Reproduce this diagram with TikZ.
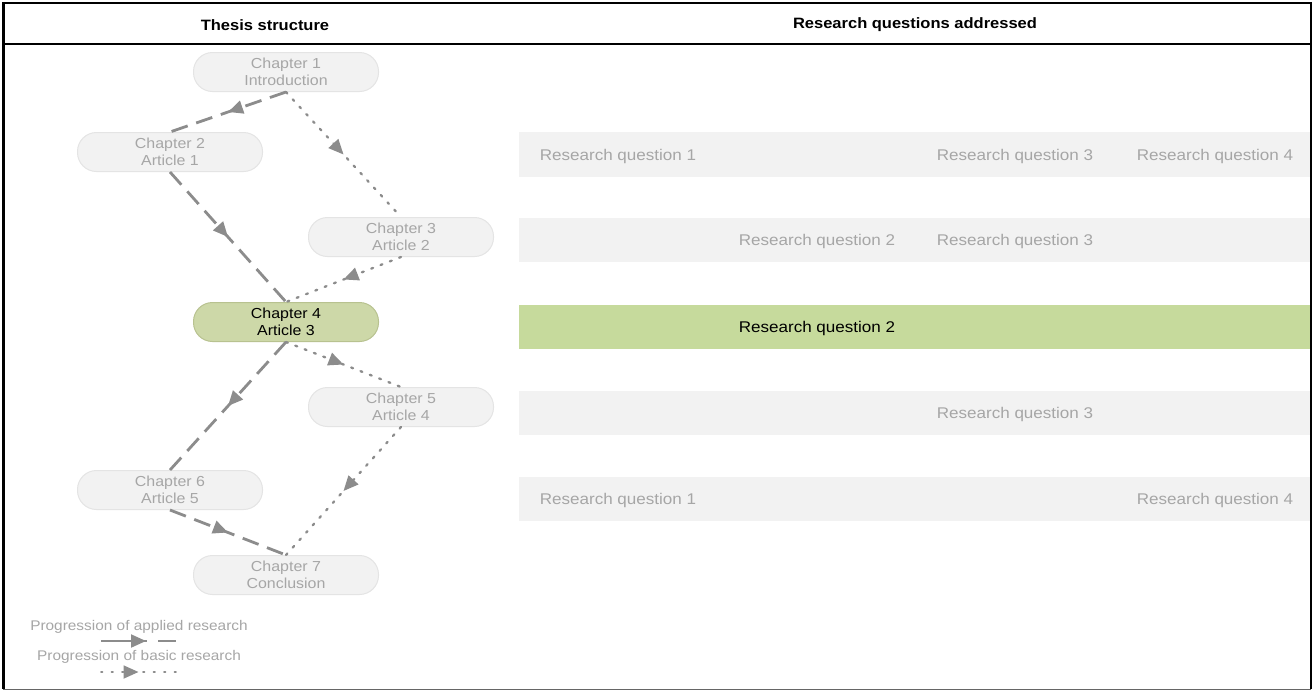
\documentclass[tikz,border=0pt]{standalone}
\usepackage{fontspec}
\setmainfont[FakeStretch=1.1]{Liberation Sans}
\usetikzlibrary{arrows.meta,decorations.markings}
\definecolor{nodefill}{HTML}{F2F2F2}
\definecolor{nodeborder}{HTML}{E4E4E4}
\definecolor{greytext}{HTML}{A6A6A6}
\definecolor{greenfill}{HTML}{CDD8A8}
\definecolor{greenborder}{HTML}{B8C290}
\definecolor{barfill}{HTML}{F2F2F2}
\definecolor{bargreen}{HTML}{C6DA9C}
\definecolor{arrowgrey}{HTML}{8C8C8C}
\tikzset{
  x=1pt, y=-1pt,
  chap/.style={draw=nodeborder, line width=1pt, fill=nodefill, rounded corners=19pt,
    minimum width=185pt, minimum height=39pt, align=center, text=greytext,
    font=\fontsize{14.5}{17.5}\selectfont, inner sep=0pt},
  chapgreen/.style={chap, draw=greenborder, fill=greenfill, text=black},
  bar/.style={fill=barfill, draw=none},
  rq/.style={text=greytext, font=\fontsize{15.5}{17}\selectfont, anchor=center, inner sep=0pt},
  midarrow/.style={postaction={decorate}, decoration={markings,
      mark=at position #1 with {\arrow{Triangle[length=15pt,width=13pt]}}}},
  applied/.style={draw=arrowgrey, line width=2.8pt, dash pattern=on 17pt off 9pt},
  basic/.style={draw=arrowgrey, line width=2.3pt, dash pattern=on 2pt off 8pt, line cap=round},
  header/.style={font=\bfseries\fontsize{15}{17}\selectfont, inner sep=0pt},
  legend/.style={text=greytext, font=\fontsize{14}{16}\selectfont, inner sep=0pt}
}
\begin{document}
\begin{tikzpicture}
\useasboundingbox (0,0) rectangle (1313,691);
\fill[white] (0,0) rectangle (1313,691);
% bars
\fill[bar] (519,132) rectangle (1311,177);
\fill[bar] (519,218) rectangle (1311,262);
\fill[bargreen] (519,305) rectangle (1311,349);
\fill[bar] (519,391) rectangle (1311,435);
\fill[bar] (519,477) rectangle (1311,521);
% frame
\draw[black!60, line width=1pt] (3,689) -- (1311,689);
\draw[black, line width=1.2pt] (1311,3) -- (1311,689);
\draw[black, line width=3pt] (3,2) -- (3,689);
\draw[black, line width=2pt] (2,3) -- (1312,3);
\draw[black, line width=2.5pt] (2,44) -- (1312,44);
\node[header] (h1) at (265,25) {Thesis structure};
\node[header] (h2) at (915,25) {Research questions addressed};
% chapter nodes
\node[chap] (c1) at (286,72) {Chapter 1\\Introduction};
\node[chap] (c2) at (170,152) {Chapter 2\\Article 1};
\node[chap] (c3) at (401,237) {Chapter 3\\Article 2};
\node[chapgreen] (c4) at (286,322) {Chapter 4\\Article 3};
\node[chap] (c5) at (401,407) {Chapter 5\\Article 4};
\node[chap] (c6) at (170,490) {Chapter 6\\Article 5};
\node[chap] (c7) at (286,575) {Chapter 7\\Conclusion};
% applied research (dashed)
\draw[applied, midarrow=0.5] (c1.south) -- (c2.north);
\draw[applied, midarrow=0.5] (c2.south) -- (c4.north);
\draw[applied, midarrow=0.5] (c4.south) -- (c6.north);
\draw[applied, midarrow=0.5] (c6.south) -- (c7.north);
% basic research (dotted)
\draw[basic, midarrow=0.5] (c1.south) -- (c3.north);
\draw[basic, midarrow=0.5] (c3.south) -- (c4.north);
\draw[basic, midarrow=0.5] (c4.south) -- (c5.north);
\draw[basic, midarrow=0.5] (c5.south) -- (c7.north);
% research questions
\node[rq] (r11) at (618,156) {Research question 1};
\node[rq] (r13) at (1015,156) {Research question 3};
\node[rq] (r14) at (1215,156) {Research question 4};
\node[rq] (r22) at (817,241) {Research question 2};
\node[rq] (r23) at (1015,241) {Research question 3};
\node[rq, text=black] (r32) at (817,328) {Research question 2};
\node[rq] (r43) at (1015,414) {Research question 3};
\node[rq] (r51) at (618,500) {Research question 1};
\node[rq] (r54) at (1215,500) {Research question 4};
% legend
\node[legend] (l1) at (139,627) {Progression of applied research};
\coordinate (la1) at (101,641);
\coordinate (la2) at (176,641);
\draw[applied, line width=2pt, dash pattern=on 46pt off 11pt, midarrow=0.6] (la1) -- (la2);
\node[legend] (l2) at (139,657) {Progression of basic research};
\coordinate (lb1) at (101,672);
\coordinate (lb2) at (176,672);
\draw[basic, line width=1.8pt, dash pattern=on 1.5pt off 9pt, midarrow=0.5] (lb1) -- (lb2);
\end{tikzpicture}
\end{document}
